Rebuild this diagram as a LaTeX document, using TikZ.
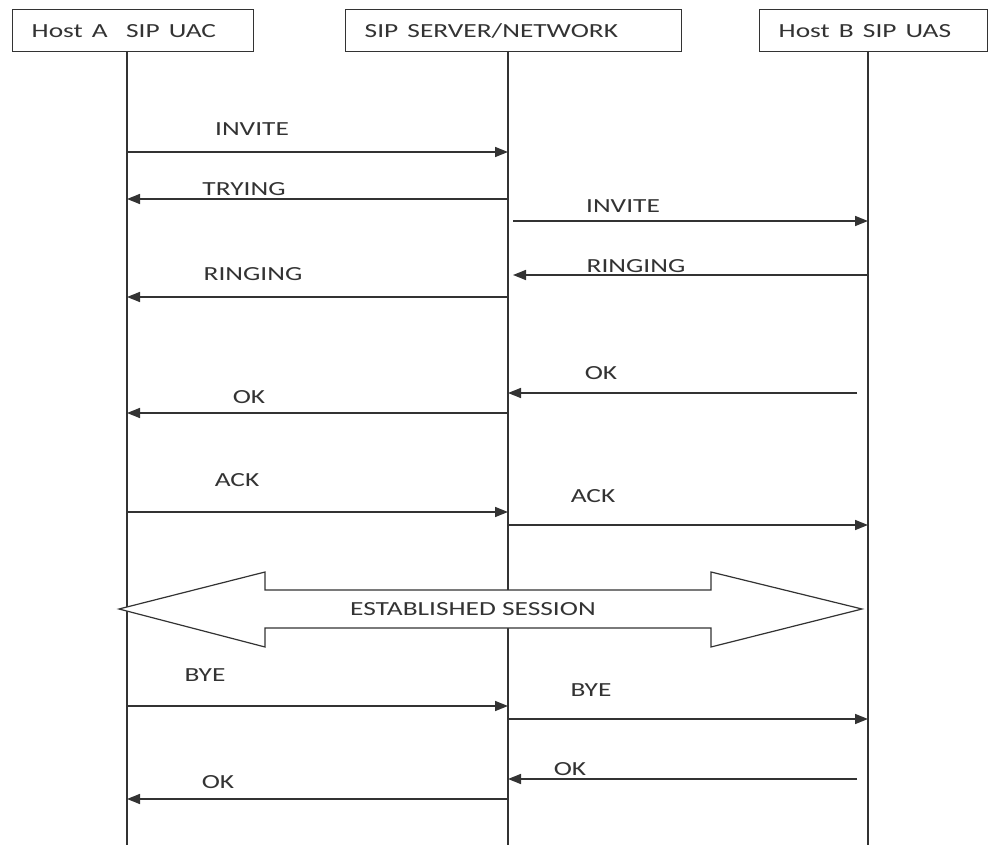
\documentclass[tikz,border=0pt]{standalone}
\usepackage{fontspec}
\setmainfont{Carlito}
\usetikzlibrary{arrows.meta}
\definecolor{ink}{HTML}{333333}
\newcommand{\wt}[1]{\scalebox{1.37}[1]{#1}}
\begin{document}
\begin{tikzpicture}[x=1pt,y=-1pt,
  hdr/.style={draw=ink, line width=1.4pt, anchor=north west, minimum height=42pt,
              inner xsep=19pt, inner ysep=0pt, align=left, font=\fontsize{20}{24}\selectfont, text=ink},
  lifeln/.style={draw=ink, line width=1.6pt},
  msg/.style={draw=ink, line width=1.5pt, -{Triangle[length=13pt,width=10pt]}},
  lbl/.style={font=\fontsize{20}{24}\selectfont, text=ink, inner sep=0pt},
  sess/.style={draw=ink, line width=1.2pt, fill=white}]
\useasboundingbox[fill=white] (0,0) rectangle (989,845);

% headers
\node[hdr, text width=203pt] (hA) at (12,9) {\wt{Host A\ \ SIP UAC}};
\node[hdr, text width=298pt] (hS) at (345,9) {\wt{SIP SERVER/NETWORK}};
\node[hdr, text width=190pt] (hB) at (759,9) {\wt{Host B SIP UAS}};

% lifelines
\coordinate (A0) at (127,51); \coordinate (A1) at (127,845);
\coordinate (S0) at (508,51); \coordinate (S1) at (508,845);
\coordinate (B0) at (868,51); \coordinate (B1) at (868,845);
\draw[lifeln] (A0) -- (A1);
\draw[lifeln] (S0) -- (S1);
\draw[lifeln] (B0) -- (B1);

% messages
\foreach \i/\xa/\xb/\yy/\lx/\ly/\t in {
  1/127/508/152/252/129/INVITE,
  2/508/127/199/244/189/TRYING,
  3/513/868/221/623/206/INVITE,
  4/868/513/275/636/266/RINGING,
  5/508/127/297/253/274/RINGING,
  6/857/508/393/601/373/OK,
  7/508/127/413/249/397/OK,
  8/127/508/512/237/480/ACK,
  9/508/868/525/593/496/ACK,
  10/127/508/706/205/675/BYE,
  11/508/868/719/591/690/BYE,
  12/857/508/779/570/769/OK,
  13/508/127/799/218/782/OK}{
  \coordinate (m\i s) at (\xa,\yy);
  \coordinate (m\i e) at (\xb,\yy);
  \draw[msg] (m\i s) -- (m\i e);
  \node[lbl] (l\i) at (\lx,\ly) {\wt{\t}};
}

% established session double arrow
\draw[sess] (119,609) -- (265,572) -- (265,590) -- (711,590) -- (711,572) -- (862,609)
  -- (711,647) -- (711,628) -- (265,628) -- (265,647) -- cycle;
\node[lbl] (sesslbl) at (473,609) {\wt{ESTABLISHED SESSION}};
\end{tikzpicture}
\end{document}
